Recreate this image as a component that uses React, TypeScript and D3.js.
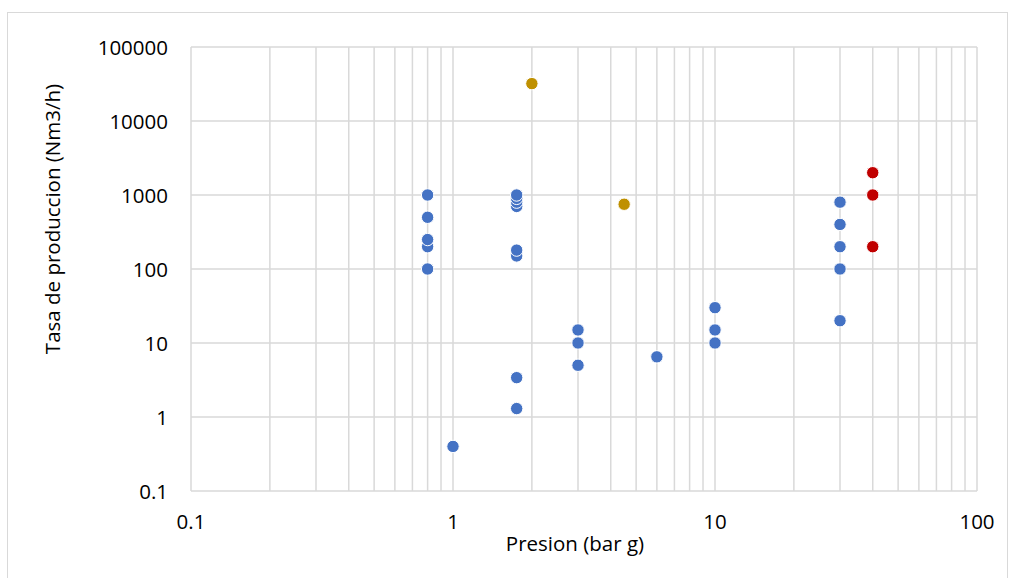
import * as d3 from 'd3';

// Presion (bar g) vs Tasa de produccion (Nm3/h)
const blueSeries = [
  { x: 0.8, y: 100 }, { x: 0.8, y: 200 }, { x: 0.8, y: 250 }, { x: 0.8, y: 500 }, { x: 0.8, y: 1000 },
  { x: 1, y: 0.4 },
  { x: 1.75, y: 1.3 }, { x: 1.75, y: 3.4 }, { x: 1.75, y: 150 }, { x: 1.75, y: 180 },
  { x: 1.75, y: 700 }, { x: 1.75, y: 800 }, { x: 1.75, y: 900 }, { x: 1.75, y: 1000 },
  { x: 3, y: 5 }, { x: 3, y: 10 }, { x: 3, y: 15 },
  { x: 6, y: 6.5 },
  { x: 10, y: 10 }, { x: 10, y: 15 }, { x: 10, y: 30 },
  { x: 30, y: 20 }, { x: 30, y: 100 }, { x: 30, y: 200 }, { x: 30, y: 400 }, { x: 30, y: 800 },
];
const goldSeries = [{ x: 2, y: 32000 }, { x: 4.5, y: 750 }];
const redSeries = [{ x: 40, y: 200 }, { x: 40, y: 1000 }, { x: 40, y: 2000 }];

const xTickLabels = ['0.1', '1', '10', '100'];
const yTickLabels = ['0.1', '1', '10', '100', '1000', '10000', '100000'];

const font = '"Open Sans", sans-serif';
const grid = '#d9d9d9';

export default function App() {
  const width = 1015;
  const height = 578;
  const plot = { left: 191, right: 977, top: 47, bottom: 491 };

  const x = d3.scaleLog().domain([0.1, 100]).range([plot.left, plot.right]);
  const y = d3.scaleLog().domain([0.1, 100000]).range([plot.bottom, plot.top]);

  // all log ticks 1..9 per decade for vertical gridlines
  const xGrid = x.ticks();
  const yMajor = yTickLabels.map(Number);

  const series = [
    { data: blueSeries, color: '#4472c4' },
    { data: goldSeries, color: '#bf9000' },
    { data: redSeries, color: '#c00000' },
  ];

  return (
    <svg width={width} height={height} style={{ position: 'absolute', left: 0, top: 0, background: '#fff' }}>
      <rect x={7.5} y={12.5} width={1000} height={600} fill="#fff" stroke={grid} />

      {/* Gridlines */}
      {xGrid.map((t, i) => (
        <line key={`xg-${i}`} x1={x(t)} x2={x(t)} y1={plot.top} y2={plot.bottom} stroke={grid} strokeWidth={1.5} />
      ))}
      {yMajor.map((t, i) => (
        <line key={`yg-${i}`} x1={plot.left} x2={plot.right} y1={y(t)} y2={y(t)} stroke={grid} strokeWidth={1.5} />
      ))}

      {/* Points */}
      {series.map((s, si) => (
        <g key={si}>
          {s.data.map((d, i) => (
            <circle key={i} cx={x(d.x)} cy={y(d.y)} r={6.2} fill={s.color} stroke="#fff" strokeWidth={1} />
          ))}
        </g>
      ))}

      {/* Y tick labels */}
      {yTickLabels.map((t) => (
        <text key={t} x={168} y={y(Number(t))} textAnchor="end" dominantBaseline="central"
          fontFamily={font} fontSize={20.5} fill="#000">{t}</text>
      ))}

      {/* X tick labels */}
      {xTickLabels.map((t) => (
        <text key={t} x={x(Number(t))} y={529} textAnchor="middle"
          fontFamily={font} fontSize={20.5} fill="#000">{t}</text>
      ))}

      <text x={575} y={551} textAnchor="middle" fontFamily={font} fontSize={20.5} fill="#000">Presion (bar g)</text>
      <text transform="translate(60,219) rotate(-90)" textAnchor="middle" fontFamily={font} fontSize={20.5} fill="#000">
        Tasa de produccion (Nm3/h)
      </text>
    </svg>
  );
}
